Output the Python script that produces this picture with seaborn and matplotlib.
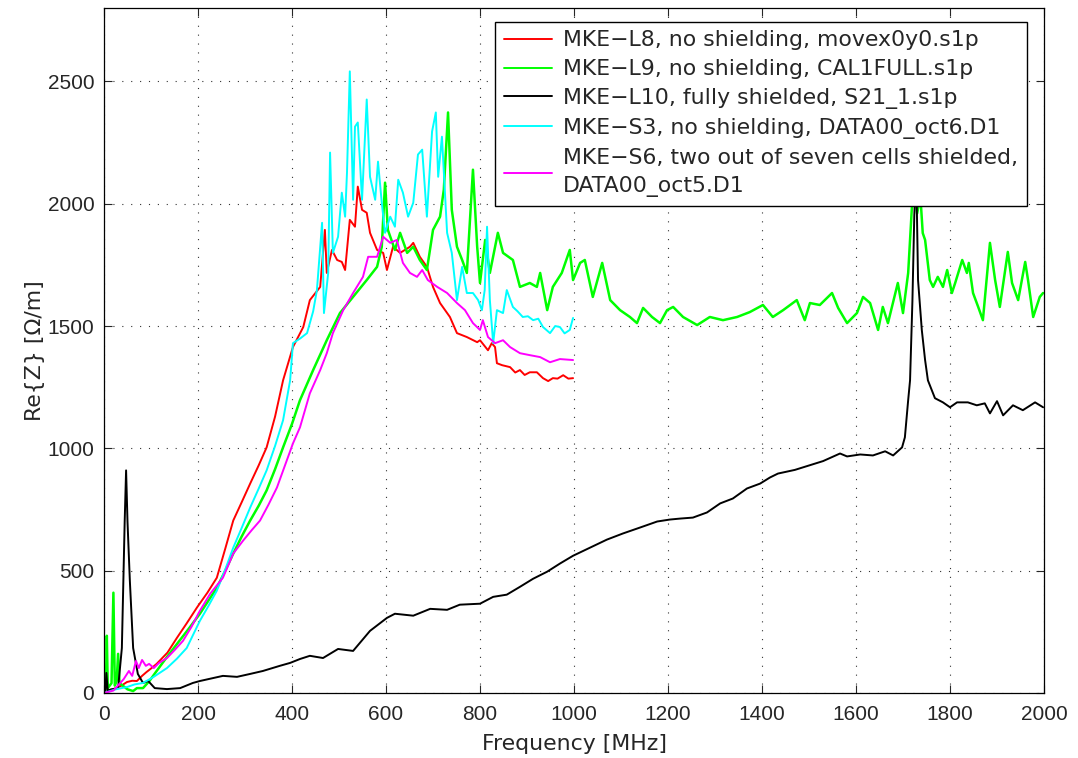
import matplotlib
matplotlib.use("Agg")
import matplotlib.pyplot as plt
import seaborn as sns
import pandas as pd

# ---------------- data ----------------
labels = [
    "MKE\u2212L8, no shielding, movex0y0.s1p",
    "MKE\u2212L9, no shielding, CAL1FULL.s1p",
    "MKE\u2212L10, fully shielded, S21_1.s1p",
    "MKE\u2212S3, no shielding, DATA00_oct6.D1",
    "MKE\u2212S6, two out of seven cells shielded,\nDATA00_oct5.D1",
]

f_L8 = [0, 21, 36, 49, 60, 70, 81, 90, 100, 112, 135, 155, 176, 198, 220, 240, 258, 275, 293, 311,
        329, 346, 364, 381, 402, 424, 438, 460, 470, 474, 485, 496, 506, 513, 523, 534, 540, 549,
        559, 566, 581, 594, 602, 615, 630, 651, 658, 672, 687, 700, 715, 736, 751, 772, 794, 800,
        817, 825, 832, 836, 847, 864, 875, 885, 895, 906, 921, 934, 945, 955, 965, 977, 988, 998]
z_L8 = [0, 16, 29, 45, 50, 49, 70, 85, 100, 119, 165, 225, 285, 350, 410, 471, 590, 705, 780, 856,
        930, 1004, 1130, 1278, 1414, 1496, 1606, 1660, 1893, 1717, 1811, 1770, 1762, 1729, 1934, 1906, 2070, 1975,
        1963, 1881, 1811, 1799, 1729, 1824, 1799, 1824, 1840, 1783, 1742, 1660, 1594, 1537, 1471, 1455, 1434, 1442,
        1401, 1430, 1414, 1348, 1340, 1332, 1310, 1320, 1300, 1311, 1311, 1287, 1275, 1287, 1285, 1299, 1285, 1287]

f_L9 = [0, 4, 6, 8, 12, 16, 20, 23, 27, 30, 33, 40, 50, 62, 70, 83, 97, 112, 133, 155, 180, 204, 222,
        240, 258, 275, 293, 311, 329, 346, 364, 381, 400, 417, 445, 474, 502, 530, 559, 581, 591, 598,
        604, 619, 630, 645, 658, 672, 687, 700, 715, 723, 732, 740, 751, 762, 772, 785, 794, 800, 811,
        821, 838, 849, 870, 885, 906, 921, 928, 943, 955, 974, 991, 998, 1013, 1023, 1040, 1060, 1077,
        1098, 1119, 1134, 1147, 1166, 1183, 1198, 1211, 1232, 1262, 1289, 1317, 1347, 1374, 1402, 1423,
        1445, 1474, 1491, 1502, 1523, 1549, 1562, 1581, 1602, 1615, 1630, 1647, 1657, 1668, 1689, 1700,
        1711, 1719, 1724, 1730, 1737, 1742, 1747, 1757, 1764, 1774, 1785, 1794, 1804, 1811, 1826, 1836,
        1840, 1849, 1860, 1870, 1885, 1896, 1906, 1923, 1932, 1945, 1960, 1966, 1977, 1991, 1998]
z_L9 = [0, 20, 234, 20, 30, 40, 410, 30, 50, 160, 40, 30, 15, 8, 20, 20, 50, 90, 145, 200, 262, 324, 377,
        430, 500, 570, 640, 705, 765, 828, 915, 1004, 1100, 1197, 1320, 1442, 1553, 1619, 1688, 1742, 1824, 2086,
        1893, 1811, 1881, 1799, 1824, 1770, 1729, 1893, 1947, 2057, 2373, 1975, 1824, 1770, 1717, 2139, 1824, 1676, 1852,
        1717, 1881, 1799, 1770, 1660, 1676, 1660, 1717, 1565, 1660, 1717, 1811, 1688, 1758, 1770, 1619, 1758, 1606,
        1565, 1537, 1512, 1574, 1537, 1512, 1565, 1578, 1537, 1504, 1537, 1524, 1537, 1557, 1586, 1537,
        1565, 1606, 1524, 1594, 1586, 1635, 1574, 1512, 1553, 1619, 1594, 1484, 1578, 1512, 1676, 1553,
        1717, 1988, 2080, 1960, 2030, 1880, 1852, 1688, 1660, 1701, 1660, 1729, 1635, 1676, 1770, 1717,
        1758, 1635, 1578, 1524, 1840, 1688, 1578, 1803, 1676, 1606, 1762, 1688, 1537, 1619, 1635]

f_L10 = [0, 3, 5, 8, 15, 30, 38, 44, 47, 50, 55, 62, 72, 83, 94, 108, 134, 162, 189, 204, 232, 253, 283,
         311, 338, 374, 396, 417, 438, 466, 498, 530, 566, 602, 619, 658, 694, 730, 757, 800, 828, 857,
         885, 913, 943, 970, 998, 1034, 1070, 1104, 1140, 1177, 1204, 1226, 1253, 1283, 1311, 1338, 1368,
         1396, 1417, 1434, 1470, 1500, 1530, 1566, 1581, 1609, 1636, 1662, 1679, 1698, 1704, 1711, 1715,
         1720, 1724, 1728, 1732, 1740, 1747, 1753, 1768, 1785, 1800, 1815, 1838, 1857, 1874, 1885, 1900,
         1913, 1934, 1955, 1981, 1998]
z_L10 = [0, 10, 82, 10, 15, 20, 184, 700, 910, 700, 459, 184, 78, 41, 49, 20, 16, 20, 41, 49, 61, 70, 66,
         78, 90, 111, 123, 139, 152, 143, 180, 172, 254, 307, 324, 316, 344, 340, 361, 365, 393, 402,
         434, 467, 496, 529, 561, 594, 627, 652, 676, 701, 709, 713, 717, 738, 775, 795, 836,
         856, 881, 897, 912, 930, 948, 979, 967, 975, 971, 988, 971, 1004, 1045, 1197, 1278,
         1600, 1950, 2150, 1688, 1484, 1361, 1278, 1205, 1188, 1168, 1188, 1188, 1176, 1184, 1143, 1193,
         1135, 1176, 1156, 1188, 1168]

f_S3 = [0, 25, 50, 65, 83, 105, 134, 155, 176, 204, 222, 240, 258, 275, 293, 311, 329, 346, 364, 381,
        396, 402, 418, 432, 445, 453, 464, 468, 477, 481, 487, 498, 506, 513, 517, 523, 530, 534, 540,
        549, 559, 566, 577, 583, 591, 598, 609, 619, 626, 636, 647, 658, 668, 677, 687, 698, 706, 711,
        719, 730, 740, 751, 762, 772, 785, 796, 804, 810, 815, 821, 828, 836, 849, 857, 870, 880, 891,
        902, 913, 924, 934, 949, 960, 970, 980, 991, 998]
z_S3 = [0, 15, 25, 35, 41, 65, 102, 140, 184, 295, 355, 418, 505, 594, 675, 758, 835, 910, 1010, 1115,
        1278, 1430, 1450, 1471, 1560, 1647, 1922, 1553, 1717, 2209, 1799, 1865, 2045, 1947, 2127, 2541, 2016, 2315, 2332,
        2016, 2426, 2110, 2016, 2172, 2004, 1881, 1947, 1906, 2098, 2045, 1947, 2004, 2201, 2221, 1947, 2295, 2373, 2110,
        2274, 1881, 1799, 1606, 1742, 1635, 1635, 1606, 1565, 1647, 1906, 1606, 1430, 1565, 1553, 1647, 1578, 1560, 1537,
        1540, 1524, 1530, 1496, 1471, 1500, 1496, 1470, 1484, 1533]

f_S6 = [0, 20, 42, 53, 60, 68, 74, 81, 89, 96, 106, 117, 134, 150, 168, 186, 204, 226, 253, 275, 296,
        314, 332, 350, 368, 385, 402, 417, 438, 460, 474, 487, 509, 530, 551, 562, 581, 594, 609, 623,
        636, 651, 666, 677, 689, 709, 730, 751, 768, 785, 800, 806, 817, 832, 849, 864, 885, 906, 928,
        949, 970, 998]
z_S6 = [0, 10, 57, 90, 70, 131, 102, 135, 111, 119, 102, 123, 143, 175, 213, 270, 336, 406, 471, 570, 623,
        665, 705, 770, 840, 930, 1020, 1086, 1225, 1320, 1389, 1471, 1565, 1635, 1701, 1783, 1783, 1865, 1840, 1852,
        1758, 1717, 1701, 1729, 1688, 1660, 1635, 1594, 1565, 1512, 1484, 1524, 1455, 1430, 1442, 1414, 1389, 1381, 1373,
        1352, 1365, 1361]

colors = ["#ff0000", "#00ff00", "#000000", "#00ffff", "#ff00ff"]
widths = [1.4, 1.8, 1.4, 1.4, 1.4]
x_ticks = list(range(0, 2001, 200))
y_ticks = list(range(0, 2501, 500))

# ---------------- plotting ----------------
sns.set_style("ticks")
plt.rcParams["font.family"] = ["Liberation Sans", "DejaVu Sans"]
text_family = ["DejaVu Sans"]

fig = plt.figure(figsize=(10.78, 7.58), dpi=100)
ax = fig.add_axes([104 / 1078, (758 - 693) / 758, 940 / 1078, 685 / 758])

series = [(f_L8, z_L8), (f_L9, z_L9), (f_L10, z_L10), (f_S3, z_S3), (f_S6, z_S6)]
for (fx, zy), c, w, lab in zip(series, colors, widths, labels):
    df = pd.DataFrame({"f": fx, "z": zy})
    sns.lineplot(data=df, x="f", y="z", ax=ax, color=c, lw=w, estimator=None,
                 sort=False, label=lab)

ax.set_xlim(0, 2000)
ax.set_ylim(0, 2800)
ax.set_xticks(x_ticks)
ax.set_yticks(y_ticks)
ax.tick_params(axis="both", which="major", direction="in", length=6, width=0.8,
               labelsize=15, top=True, right=True, pad=7)
ax.tick_params(axis="x", pad=9)
ax.grid(True, linestyle=(0, (1, 7)), color="#333333", linewidth=0.8)
for sp in ax.spines.values():
    sp.set_color("black")
    sp.set_linewidth(0.9)
ax.set_xlabel("Frequency [MHz]", fontsize=15.8, family=text_family, labelpad=7)
ax.set_ylabel("Re{Z} [\u03a9/m]", fontsize=15.8, family=text_family, labelpad=2)

leg = ax.legend(loc="upper right", bbox_to_anchor=(0.982, 0.98),
                prop={"family": text_family, "size": 15.8},
                frameon=True, fancybox=False, framealpha=1, edgecolor="black",
                handlelength=2.2, handletextpad=0.5, labelspacing=0.4,
                borderpad=0.4, borderaxespad=0)
leg.get_frame().set_linewidth(1.0)
for h in leg.get_lines():
    h.set_linewidth(1.4)
for t in leg.get_texts():
    t.set_linespacing(1.55)

fig.savefig("out.png", dpi=100)
